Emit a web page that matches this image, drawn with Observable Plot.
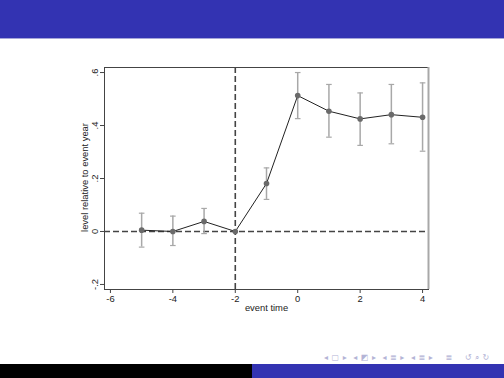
<!DOCTYPE html>
<html>
<head>
<meta charset="utf-8">
<script src="https://cdn.jsdelivr.net/npm/d3@7"></script>
<script src="https://cdn.jsdelivr.net/npm/@observablehq/plot@0.6"></script>
<style>
  html, body { margin: 0; padding: 0; background: #fff; }
  #page { position: relative; width: 504px; height: 378px; overflow: hidden; font-family: "Liberation Sans", Arial, sans-serif; }
  #header { position: absolute; left: 0; top: 0; width: 504px; height: 38px; background: #3333b2; border-bottom: 1px solid #a6a6d9; }
  #chart { position: absolute; left: 0; top: 0; }
  #nav { position: absolute; left: 324px; top: 353px; font-size: 8px; color: #b4b4d6; font-family: "DejaVu Sans", sans-serif; letter-spacing: 0.5px; white-space: nowrap; }
  #footL { position: absolute; left: 0; top: 364px; width: 252px; height: 14px; background: #000; }
  #footR { position: absolute; left: 252px; top: 364px; width: 252px; height: 14px; background: #3333b2; }
</style>
</head>
<body>
<div id="page">
  <div id="chart"></div>
  <div id="header"></div>
  <div id="nav">◂ ▢ ▸ &nbsp;◂ ◩ ▸ &nbsp;◂ ≣ ▸ &nbsp;◂ ≣ ▸ &nbsp;&nbsp; ≣ &nbsp;&nbsp; ↺ ⌕ ↻</div>
  <div id="footL"></div>
  <div id="footR"></div>
</div>
<script>
const eventTime = [-5, -4, -3, -2, -1, 0, 1, 2, 3, 4];
const estimate  = [0.005, 0, 0.038, 0, 0.181, 0.513, 0.454, 0.425, 0.441, 0.431];
const ciLow     = [-0.059, -0.053, -0.008, null, 0.121, 0.426, 0.356, 0.325, 0.331, 0.303];
const ciHigh    = [0.069, 0.058, 0.087, null, 0.24, 0.6, 0.555, 0.523, 0.555, 0.561];
const xTicks = [-6, -4, -2, 0, 2, 4];
const yTicks = [-0.2, 0, 0.2, 0.4, 0.6];
const xLabel = "event time";
const yLabel = "level relative to event year";
const eventLine = -2;
const xDomain = [-6.19, 4.19];
const yDomain = [-0.219, 0.619];

const data = eventTime.map((t, i) => ({t, est: estimate[i], lo: ciLow[i], hi: ciHigh[i]}));
const ci = data.filter(d => d.lo != null);
const fmtY = d => d === 0 ? "0" : d.toFixed(1).replace("0.", ".");
const capSymbol = { draw(ctx, size) { const r = Math.sqrt(size / Math.PI); ctx.moveTo(-r, 0); ctx.lineTo(r, 0); } };

const font = "Liberation Sans, Arial, sans-serif";
const fs = 9.4;
const chart = Plot.plot({
  width: 504,
  height: 378,
  marginLeft: 104,
  marginRight: 76,
  marginTop: 67,
  marginBottom: 89,
  style: { fontFamily: font, fontSize: fs + "px", background: "transparent", color: "#222" },
  x: { domain: xDomain, ticks: xTicks, axis: null },
  y: { domain: yDomain, ticks: yTicks, axis: null },
  marks: [
    Plot.axisX({ ticks: xTicks, tickSize: 4, tickPadding: 2, tickFormat: d => String(d), label: null, stroke: "#444", fontSize: fs }),
    Plot.axisY({ ticks: yTicks, tickSize: 4, tickFormat: () => "", label: null, stroke: "#444" }),
    Plot.text(yTicks, { y: d => d, text: fmtY, frameAnchor: "left", dx: -10, rotate: -90, textAnchor: "middle", fontSize: fs, fill: "#222" }),
    Plot.text([xLabel], { frameAnchor: "bottom", dy: 21, text: d => d, textAnchor: "middle", fontSize: fs, fill: "#222" }),
    Plot.text([yLabel], { frameAnchor: "left", dx: -19.5, dy: -1, rotate: -90, textAnchor: "middle", text: d => d, fontSize: fs, fill: "#222" }),
    Plot.ruleY([0], { stroke: "#444", strokeWidth: 1.6, strokeDasharray: "6,3" }),
    Plot.ruleX([eventLine], { stroke: "#444", strokeWidth: 1.6, strokeDasharray: "6,3" }),
    Plot.ruleX(ci, { x: "t", y1: "lo", y2: "hi", stroke: "#a8a8a8", strokeWidth: 1.5 }),
    Plot.dot(ci, { x: "t", y: "lo", symbol: capSymbol, r: 2.8, stroke: "#a8a8a8", strokeWidth: 1.2, fill: "none" }),
    Plot.dot(ci, { x: "t", y: "hi", symbol: capSymbol, r: 2.8, stroke: "#a8a8a8", strokeWidth: 1.2, fill: "none" }),
    Plot.line(data, { x: "t", y: "est", stroke: "#222", strokeWidth: 1 }),
    Plot.dot(data, { x: "t", y: "est", r: 2.8, fill: "#6a6a6a", stroke: "none" }),
    Plot.frame({ stroke: "#444", strokeWidth: 1 }),
    Plot.ruleX([xDomain[1]], { stroke: "#a8a8a8", strokeWidth: 2 })
  ]
});
document.getElementById("chart").appendChild(chart);
</script>
</body>
</html>
